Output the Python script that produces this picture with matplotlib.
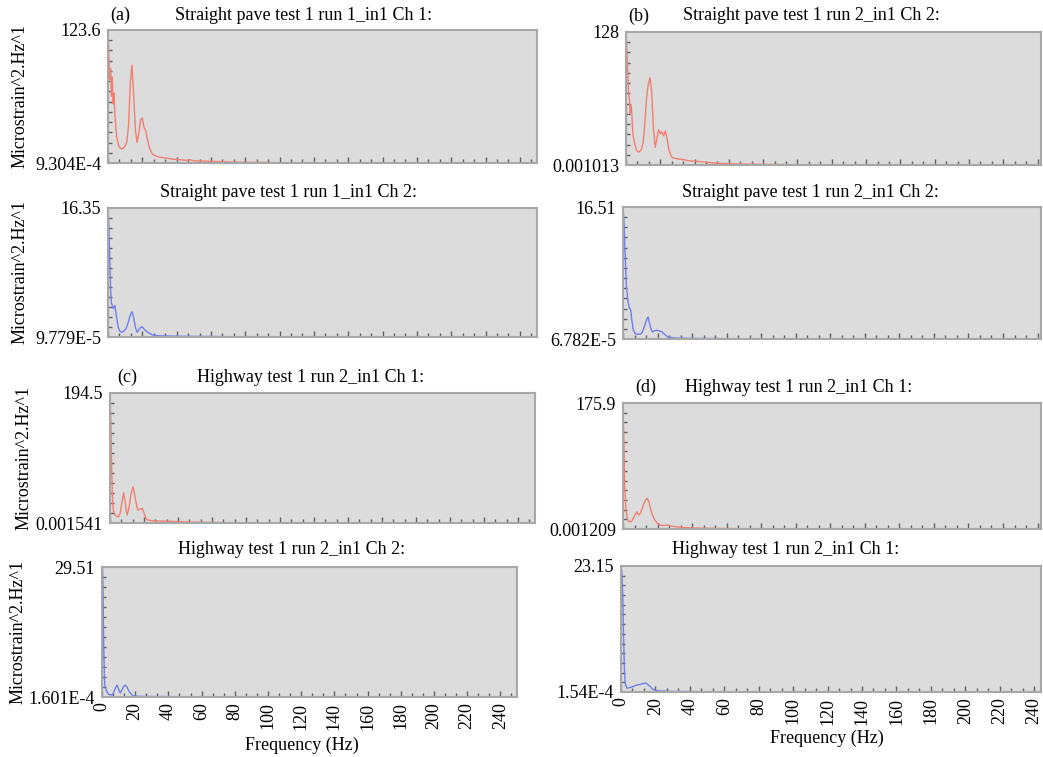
import numpy as np
import matplotlib
matplotlib.use("Agg")
import matplotlib.pyplot as plt
from matplotlib.ticker import AutoMinorLocator, FixedLocator

plt.rcParams["font.family"] = "serif"
plt.rcParams["font.serif"] = ["Liberation Serif", "DejaVu Serif"]

W, H = 1043, 757
RED = "#f47f70"
BLUE = "#6f7ff0"

# --- panel data (frequency in Hz, PSD in microstrain^2/Hz) ---
freq_a = [0, 0.5, 1, 1.5, 2, 2.5, 3, 3.5, 4, 5, 6, 7, 8, 9, 10, 11, 12, 13, 14, 15, 16, 17,
          18, 19, 20, 21, 22, 23, 24, 25, 26, 28, 30, 34, 38, 42, 46, 48, 50, 55, 60, 70, 80, 90, 100]
psd_a = [123.6, 100, 78, 88, 62, 80, 55, 65, 45, 25, 17, 14, 13, 14, 16, 20, 35, 75, 91, 62, 30, 19,
         28, 40, 42, 33, 30, 22, 15, 11, 8, 6.5, 5.5, 4.5, 3.5, 3, 2.5, 3, 2, 1.8, 1.5, 1, 0.7, 0.5, 0.3]

freq_b = [0, 0.5, 1, 1.5, 2, 2.5, 3, 3.5, 4, 5, 6, 7, 8, 9, 10, 11, 12, 13, 14, 15, 16, 17, 18, 19,
          20, 21, 22, 23, 24, 25, 26, 27, 30, 34, 37, 42, 47, 55, 65, 80, 100]
psd_b = [128, 110, 90, 70, 63, 50, 58, 46, 30, 21, 15, 12.5, 13, 15, 22, 40, 65, 78, 84, 70, 35, 17, 25, 34,
         30, 32, 28, 33, 25, 15, 10, 7, 6, 5, 4, 3.5, 2.5, 1.5, 1, 0.6, 0.3]

freq_a2 = [0, 0.5, 1, 1.5, 2, 3, 4, 5, 6, 7, 8, 9, 10, 11, 12, 13, 14, 15, 16, 17, 18, 19, 20, 21, 22,
           24, 26, 30, 40, 50, 67]
psd_a2 = [16.35, 14, 10, 6, 4.3, 3.6, 4.0, 2.5, 1.2, 0.7, 0.6, 0.7, 0.9, 1.3, 2.0, 2.8, 3.2, 2.4, 1.2, 0.6,
          0.9, 1.2, 1.3, 1.0, 0.8, 0.5, 0.25, 0.15, 0.1, 0.08, 0.05]

freq_b2 = [0, 0.5, 1, 1.5, 2, 3, 3.5, 4.5, 5, 6, 7, 8, 10, 11, 12, 13, 14, 14.5, 15, 16, 17, 18, 19.5,
           21, 22.5, 24, 26, 30, 40, 55, 68]
psd_b2 = [16.51, 15, 12, 9, 6.5, 4.5, 4.0, 3.6, 2.5, 1.1, 0.7, 0.6, 0.6, 0.8, 1.3, 2.0, 2.6, 2.75, 2.3,
          1.4, 0.9, 1.0, 1.1, 1.0, 0.9, 0.6, 0.25, 0.12, 0.08, 0.05, 0.04]

freq_c = [0, 0.5, 1, 1.5, 2, 3, 4, 5, 6, 7, 8, 9, 10, 11, 12, 13, 13.5, 14, 15, 16, 16.5, 17, 18, 19,
          20, 21, 22, 25, 29, 35, 45, 55, 70]
psd_c = [194.5, 150, 80, 35, 19, 12, 10, 9, 15, 30, 45, 30, 12, 20, 38, 50, 54, 50, 35, 22, 19, 20, 21, 22,
         15, 8, 4.5, 3.5, 3, 2.5, 1.5, 1, 0.5]

freq_d = [0, 0.5, 1, 1.7, 2.5, 3, 4, 5, 6, 7, 8, 9, 10, 11, 12, 13, 14, 15, 16, 17, 17.5, 18.5, 20,
          21.5, 23, 25.5, 28, 35, 45, 55, 68]
psd_d = [175.9, 120, 60, 26.5, 15, 11, 9.8, 11, 15, 20, 24, 19.5, 22, 28, 35, 40, 43, 38, 28, 20, 17, 12, 8,
         5.6, 4.8, 5.6, 4, 2, 1.2, 0.8, 0.5]

freq_c2 = [0, 0.3, 0.6, 1, 1.5, 1.8, 3, 4, 6, 7, 8, 9, 10, 11, 12, 13, 14, 15, 16, 17, 18, 19, 22, 30,
           37, 50, 65]
psd_c2 = [29.51, 29.51, 25, 12, 4, 2.3, 1.2, 0.6, 0.45, 1.0, 2.0, 2.7, 1.8, 0.9, 1.6, 2.4, 2.7, 2.3, 1.5,
          0.9, 0.5, 0.25, 0.15, 0.1, 0.1, 0.06, 0.04]

freq_d2 = [0, 0.5, 1, 1.5, 2, 2.5, 3.5, 5, 7, 9, 11, 12, 14, 15, 17, 18, 19.5, 22, 30, 40, 50, 67]
psd_d2 = [23.15, 22, 18, 10, 4, 1.5, 0.7, 0.8, 1.0, 1.3, 1.35, 1.5, 1.65, 1.5, 1.0, 0.6, 0.37, 0.2, 0.1,
          0.08, 0.06, 0.04]

y_min = [9.304e-4, 1.013e-3, 9.779e-5, 6.782e-5, 1.541e-3, 1.209e-3, 1.601e-4, 1.54e-4]
y_max = [123.6, 128, 16.35, 16.51, 194.5, 175.9, 29.51, 23.15]
y_min_labels = ["9.304E-4", "0.001013", "9.779E-5", "6.782E-5",
                "0.001541", "0.001209", "1.601E-4", "1.54E-4"]
y_max_labels = ["123.6", "128", "16.35", "16.51", "194.5", "175.9", "29.51", "23.15"]

titles = [
    "Straight pave test 1 run 1_in1 Ch 1:", "Straight pave test 1 run 2_in1 Ch 2:",
    "Straight pave test 1 run 1_in1 Ch 2:", "Straight pave test 1 run 2_in1 Ch 2:",
    "Highway test 1 run 2_in1 Ch 1:", "Highway test 1 run 2_in1 Ch 1:",
    "Highway test 1 run 2_in1 Ch 2:", "Highway test 1 run 2_in1 Ch 1:",
]
panel_tags = ["(a)", "(b)", None, None, "(c)", "(d)", None, None]

panels = [(freq_a, psd_a, RED), (freq_b, psd_b, RED),
          (freq_a2, psd_a2, BLUE), (freq_b2, psd_b2, BLUE),
          (freq_c, psd_c, RED), (freq_d, psd_d, RED),
          (freq_c2, psd_c2, BLUE), (freq_d2, psd_d2, BLUE)]

# axes boxes in pixels: left, top, right, bottom
boxes = [(108, 30, 537, 163), (626, 32, 1041, 165),
         (108, 208, 537, 337), (623, 207, 1041, 339),
         (110, 393, 535, 523), (623, 403, 1041, 529),
         (102, 567, 517, 697), (621, 566, 1041, 692)]
xmax = [250, 242, 250, 242, 250, 242, 250, 244]

# text anchor positions in pixels
tag_pos = [(110, 15), (628, 16), None, None, (117, 377), (635, 387), None, None]
title_pos = [(175, 15), (683, 16), (160, 193), (682, 193),
             (197, 377), (685, 387), (178, 550), (672, 549)]
ylabel_pos = [(20, 96), (20, 272), (24, 458), (18, 632)]


def px_rect(l, t, r, b):
    return [l / W, 1 - b / H, (r - l) / W, (b - t) / H]


fig = plt.figure(figsize=(W / 100, H / 100), dpi=100)
FS = 13

for i, (f, v, col) in enumerate(panels):
    ax = fig.add_axes(px_rect(*boxes[i]))
    ax.set_facecolor("#dcdcdc")
    ax.plot(f, v, color=col, lw=1.0)
    ax.set_xlim(0, xmax[i])
    ax.set_ylim(y_min[i], y_max[i])

    ax.set_xticks(np.arange(0, 241, 20))
    ax.xaxis.set_minor_locator(AutoMinorLocator(3))
    ax.set_yticks([y_min[i], y_max[i]])
    ax.set_yticklabels([y_min_labels[i], y_max_labels[i]], fontsize=FS)
    ax.yaxis.set_minor_locator(FixedLocator(np.linspace(y_min[i], y_max[i], 14)))
    ax.tick_params(which="both", direction="in", color="#606060", width=1)
    ax.tick_params(which="major", length=4, pad=2)
    ax.tick_params(which="minor", length=3)
    ax.tick_params(axis="y", which="major", length=0, pad=5)
    if i >= 6:
        ax.tick_params(axis="x", labelsize=FS, labelrotation=90, pad=4)
    else:
        ax.tick_params(axis="x", labelbottom=False)
    for s in ax.spines.values():
        s.set_color("#a8a8a8")
        s.set_linewidth(1.5)

    tx, ty = title_pos[i]
    fig.text(tx / W, 1 - ty / H, titles[i], fontsize=FS, ha="left", va="center")
    if panel_tags[i]:
        gx, gy = tag_pos[i]
        fig.text(gx / W, 1 - gy / H, panel_tags[i], fontsize=FS, ha="left", va="center")

for x, y in ylabel_pos:
    fig.text(x / W, 1 - y / H, "Microstrain^2.Hz^1", fontsize=FS, rotation=90,
             ha="center", va="center")

fig.text(302 / W, 1 - 745 / H, "Frequency (Hz)", fontsize=FS, ha="center", va="center")
fig.text(827 / W, 1 - 738 / H, "Frequency (Hz)", fontsize=FS, ha="center", va="center")

fig.savefig("out.png", dpi=100, facecolor="white")
